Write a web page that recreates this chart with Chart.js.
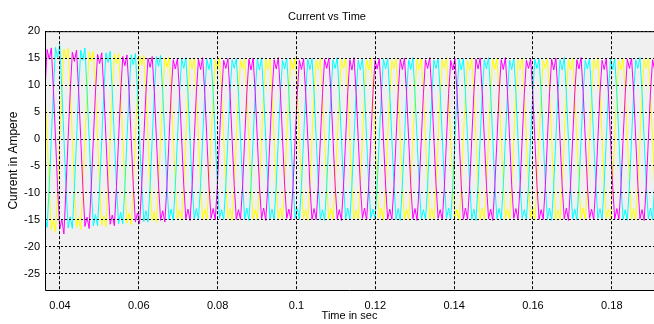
<!DOCTYPE html>
<html>
<head>
<meta charset="utf-8">
<script src="https://cdn.jsdelivr.net/npm/chart.js@4.4.1/dist/chart.umd.min.js"></script>
<style>
  html, body { margin: 0; padding: 0; background: #fff; }
  #wrap { width: 654px; height: 324px; }
</style>
</head>
<body>
<div id="wrap"><canvas id="chart" width="654" height="324"></canvas></div>
<script>
// sampling of the traces (seconds)
const sampleStart = 0.0362;
const sampleStep = 0.0064 / 12;

// phase currents (A), one line per cycle
const currentYellow = [
  9.3, 0.2, -9.1, -16.9, -15.0, -17.3, -9.2, 0.1, 9.0, 16.7, 14.8, 16.8,
  9.1, 0.1, -8.9, -16.4, -14.6, -16.8, -9.0, 0.0, 8.8, 16.2, 14.4, 16.3,
  8.9, 0.1, -8.8, -16.0, -14.2, -16.3, -8.9, 0.0, 8.7, 15.8, 14.0, 15.9,
  8.8, 0.0, -8.7, -15.6, -13.8, -15.9, -8.8, 0.1, 8.6, 15.4, 13.7, 15.5,
  8.7, 0.1, -8.6, -15.2, -13.4, -15.5, -8.7, 0.0, 8.5, 15.1, 13.3, 15.2,
  8.6, 0.0, -8.5, -14.9, -13.1, -15.1, -8.6, 0.1, 8.5, 14.8, 13.0, 15.0,
  8.5, 0.1, -8.6, -14.8, -13.0, -15.0, -8.5, 0.0, 8.6, 14.7, 12.9, 15.1,
  8.7, 0.0, -8.4, -14.7, -12.9, -15.1, -8.7, 0.1, 8.4, 14.6, 13.1, 14.9,
  8.6, -0.1, -8.5, -14.9, -13.1, -14.9, -8.6, 0.0, 8.5, 14.8, 12.8, 15.0,
  8.5, 0.0, -8.6, -14.8, -12.8, -15.0, -8.5, 0.1, 8.6, 14.7, 13.0, 15.1,
  8.6, 0.1, -8.5, -14.7, -13.0, -15.1, -8.6, 0.0, 8.5, 14.6, 12.9, 14.9,
  8.7, 0.0, -8.4, -14.9, -12.9, -14.9, -8.7, -0.1, 8.4, 14.8, 13.1, 15.0,
  8.5, 0.1, -8.6, -14.8, -13.1, -15.0, -8.5, 0.0, 8.6, 14.7, 12.8, 15.1,
  8.6, 0.0, -8.5, -14.7, -12.8, -15.1, -8.6, 0.1, 8.5, 14.6, 13.0, 14.9,
  8.5, -0.1, -8.6, -14.9, -13.0, -14.9, -8.5, 0.0, 8.6, 14.8, 12.9, 15.0,
  8.7, 0.0, -8.4, -14.8, -12.9, -15.0, -8.7, 0.1, 8.4, 14.7, 13.1, 15.1,
  8.6, 0.1, -8.5, -14.7, -13.1, -15.1, -8.6, 0.0, 8.5, 14.6, 12.8, 14.9,
  8.5, 0.0, -8.6, -14.9, -12.8, -14.9, -8.5, -0.1, 8.6, 14.8, 13.0, 15.0,
  8.6, 0.1, -8.5, -14.8, -13.0, -15.0, -8.6, 0.0, 8.5, 14.7, 12.9, 15.1,
  8.7, 0.0, -8.4, -14.7, -12.9, -15.1, -8.7, 0.1, 8.4, 14.6, 13.1, 14.9,
  8.5, -0.1, -8.6, -14.9, -13.1, -14.9, -8.5, 0.0, 8.6, 14.8, 12.8, 15.0,
  8.6, 0.0, -8.5, -14.8, -12.8, -15.0, -8.6, 0.1, 8.5, 14.7, 13.0, 15.1,
  8.5, 0.1, -8.6, -14.7, -13.0, -15.1, -8.5, 0.0, 8.6, 14.6, 12.9, 14.9,
  8.7, 0.0, -8.4, -14.9, -12.9, -14.9, -8.7, -0.1, 8.4, 14.8, 13.1, 15.0,
  8.6, 0.1, -8.5
];

const currentMagenta = [
  8.9, 16.6, 14.8, 16.9, 9.2, 0.2, -9.0, -16.7, -14.9, -17.6, -9.1, 0.1,
  8.8, 16.1, 14.4, 16.5, 9.0, 0.1, -8.8, -16.2, -14.5, -16.6, -8.9, 0.0,
  8.7, 15.7, 14.0, 16.0, 8.9, 0.1, -8.7, -15.8, -14.1, -16.1, -8.8, 0.0,
  8.6, 15.3, 13.6, 15.6, 8.8, 0.0, -8.6, -15.4, -13.7, -15.7, -8.7, 0.1,
  8.5, 15.0, 13.3, 15.3, 8.7, 0.1, -8.5, -15.1, -13.3, -15.4, -8.6, 0.0,
  8.5, 14.7, 13.0, 15.0, 8.6, 0.0, -8.5, -14.8, -13.0, -15.1, -8.6, 0.1,
  8.6, 14.8, 12.9, 15.1, 8.5, 0.1, -8.6, -14.7, -12.9, -15.0, -8.5, 0.0,
  8.4, 14.6, 13.1, 14.9, 8.7, 0.0, -8.4, -14.9, -13.1, -14.9, -8.7, 0.1,
  8.5, 14.8, 12.8, 15.0, 8.6, -0.1, -8.5, -14.8, -12.8, -15.1, -8.6, 0.0,
  8.6, 14.7, 13.0, 15.1, 8.5, 0.0, -8.6, -14.7, -13.0, -15.0, -8.5, 0.1,
  8.5, 14.6, 12.9, 14.9, 8.6, 0.1, -8.5, -14.9, -12.9, -14.9, -8.6, 0.0,
  8.4, 14.8, 13.1, 15.0, 8.7, 0.0, -8.4, -14.8, -13.1, -15.1, -8.7, -0.1,
  8.6, 14.7, 12.8, 15.1, 8.5, 0.1, -8.6, -14.7, -12.8, -15.0, -8.5, 0.0,
  8.5, 14.6, 13.0, 14.9, 8.6, 0.0, -8.5, -14.9, -13.0, -14.9, -8.6, 0.1,
  8.6, 14.8, 12.9, 15.0, 8.5, -0.1, -8.6, -14.8, -12.9, -15.1, -8.5, 0.0,
  8.4, 14.7, 13.1, 15.1, 8.7, 0.0, -8.4, -14.7, -13.1, -15.0, -8.7, 0.1,
  8.5, 14.6, 12.8, 14.9, 8.6, 0.1, -8.5, -14.9, -12.8, -14.9, -8.6, 0.0,
  8.6, 14.8, 13.0, 15.0, 8.5, 0.0, -8.6, -14.8, -13.0, -15.1, -8.5, -0.1,
  8.5, 14.7, 12.9, 15.1, 8.6, 0.1, -8.5, -14.7, -12.9, -15.0, -8.6, 0.0,
  8.4, 14.6, 13.1, 14.9, 8.7, 0.0, -8.4, -14.9, -13.1, -14.9, -8.7, 0.1,
  8.6, 14.8, 12.8, 15.0, 8.5, -0.1, -8.6, -14.8, -12.8, -15.1, -8.5, 0.0,
  8.5, 14.7, 13.0, 15.1, 8.6, 0.0, -8.5, -14.7, -13.0, -15.0, -8.6, 0.1,
  8.6, 14.6, 12.9, 14.9, 8.5, 0.1, -8.6, -14.9, -12.9, -14.9, -8.5, 0.0,
  8.4, 14.8, 13.1, 15.0, 8.7, 0.0, -8.4, -14.8, -13.1, -15.1, -8.7, -0.1,
  8.5, 14.7, 12.8
];

const currentCyan = [
  -14.3, -16.4, -9.0, 0.1, 9.1, 17.0, 15.1, 17.5, 9.3, 0.2, -9.0, -16.5,
  -14.4, -16.6, -9.0, 0.0, 8.9, 16.5, 14.6, 16.9, 9.1, 0.1, -8.9, -16.1,
  -14.0, -16.1, -8.9, 0.0, 8.8, 16.0, 14.2, 16.3, 8.9, 0.1, -8.8, -15.7,
  -13.6, -15.7, -8.8, 0.1, 8.7, 15.6, 13.8, 15.9, 8.8, 0.0, -8.7, -15.3,
  -13.3, -15.4, -8.7, 0.0, 8.6, 15.3, 13.5, 15.5, 8.7, 0.1, -8.6, -15.0,
  -13.0, -15.1, -8.6, 0.1, 8.5, 14.9, 13.1, 15.1, 8.6, 0.0, -8.5, -14.8,
  -12.9, -15.0, -8.5, 0.0, 8.6, 14.8, 12.9, 15.0, 8.5, 0.1, -8.6, -14.7,
  -13.1, -14.9, -8.7, 0.1, 8.4, 14.7, 13.1, 14.9, 8.7, 0.0, -8.4, -14.9,
  -12.8, -15.1, -8.6, 0.0, 8.5, 14.8, 12.8, 15.1, 8.6, -0.1, -8.5, -14.8,
  -13.0, -15.0, -8.5, 0.1, 8.6, 14.6, 13.0, 15.0, 8.5, 0.0, -8.6, -14.7,
  -12.9, -14.9, -8.6, 0.0, 8.5, 14.8, 12.9, 14.9, 8.6, 0.1, -8.5, -14.9,
  -13.1, -15.1, -8.7, -0.1, 8.4, 14.7, 13.1, 15.1, 8.7, 0.0, -8.4, -14.8,
  -12.8, -15.0, -8.5, 0.0, 8.6, 14.6, 12.8, 15.0, 8.5, 0.1, -8.6, -14.7,
  -13.0, -14.9, -8.6, 0.1, 8.5, 14.8, 13.0, 14.9, 8.6, 0.0, -8.5, -14.9,
  -12.9, -15.1, -8.5, 0.0, 8.6, 14.7, 12.9, 15.1, 8.5, -0.1, -8.6, -14.8,
  -13.1, -15.0, -8.7, 0.1, 8.4, 14.6, 13.1, 15.0, 8.7, 0.0, -8.4, -14.7,
  -12.8, -14.9, -8.6, 0.0, 8.5, 14.8, 12.8, 14.9, 8.6, 0.1, -8.5, -14.9,
  -13.0, -15.1, -8.5, -0.1, 8.6, 14.7, 13.0, 15.1, 8.5, 0.0, -8.6, -14.8,
  -12.9, -15.0, -8.6, 0.0, 8.5, 14.6, 12.9, 15.0, 8.6, 0.1, -8.5, -14.7,
  -13.1, -14.9, -8.7, 0.1, 8.4, 14.8, 13.1, 14.9, 8.7, 0.0, -8.4, -14.9,
  -12.8, -15.1, -8.5, 0.0, 8.6, 14.7, 12.8, 15.1, 8.5, -0.1, -8.6, -14.8,
  -13.0, -15.0, -8.6, 0.1, 8.5, 14.6, 13.0, 15.0, 8.6, 0.0, -8.5, -14.7,
  -12.9, -14.9, -8.5, 0.0, 8.6, 14.8, 12.9, 14.9, 8.5, 0.1, -8.6, -14.9,
  -13.1, -15.1, -8.7, -0.1, 8.4, 14.7, 13.1, 15.1, 8.7, 0.0, -8.4, -14.8,
  -12.8, -15.0, -8.5
];

const timeTicks = [0.04, 0.06, 0.08, 0.1, 0.12, 0.14, 0.16, 0.18];
const currentTicks = [-25, -20, -15, -10, -5, 0, 5, 10, 15, 20];

const font = { family: 'Liberation Sans, Arial, sans-serif', size: 11 };

function toPoints(values) {
  return values.map((v, i) => ({ x: sampleStart + i * sampleStep, y: v }));
}

// grey plot background and the solid axes box (left, top, bottom)
const axesBox = {
  id: 'axesBox',
  beforeDraw(chart) {
    const { ctx, chartArea: a } = chart;
    ctx.save();
    ctx.fillStyle = '#f0f0f0';
    ctx.fillRect(a.left, a.top, a.right - a.left, a.bottom - a.top);
    ctx.restore();
  },
  afterDraw(chart) {
    const { ctx, chartArea: a } = chart;
    ctx.save();
    ctx.strokeStyle = '#000';
    ctx.lineWidth = 1;
    ctx.beginPath();
    ctx.moveTo(a.right, a.top + 0.5);
    ctx.lineTo(a.left + 0.5, a.top + 0.5);
    ctx.lineTo(a.left + 0.5, a.bottom + 0.5);
    ctx.lineTo(a.right, a.bottom + 0.5);
    ctx.stroke();
    ctx.restore();
  }
};

const ctx = document.getElementById('chart').getContext('2d');
new Chart(ctx, {
  type: 'line',
  data: {
    datasets: [
      { label: 'Ia', data: toPoints(currentMagenta), borderColor: '#ff00ff' },
      { label: 'Ib', data: toPoints(currentCyan), borderColor: '#00ffff' },
      { label: 'Ic', data: toPoints(currentYellow), borderColor: '#ffff00' }
    ]
  },
  options: {
    responsive: false,
    animation: false,
    events: [],
    elements: {
      point: { radius: 0 },
      line: { borderWidth: 1, tension: 0 }
    },
    layout: { padding: 0 },
    plugins: {
      legend: { display: false },
      tooltip: { enabled: false },
      title: {
        display: true,
        text: 'Current vs Time',
        color: '#000',
        font: { ...font, weight: 'normal' },
        padding: { top: 10, bottom: 8 }
      }
    },
    scales: {
      x: {
        type: 'linear',
        min: 0.0362,
        max: 0.1907,
        afterFit: s => { s.height = 34; },
        afterBuildTicks: s => { s.ticks = timeTicks.map(v => ({ value: v })); },
        ticks: {
          color: '#000',
          font,
          padding: 9,
          maxRotation: 0,
          autoSkip: false,
          callback: v => String(+v.toFixed(3))
        },
        grid: { color: '#000', lineWidth: 1, drawTicks: false, z: 1 },
        border: { display: false, dash: [3, 2] },
        title: {
          display: true,
          text: 'Time in sec',
          color: '#000',
          font,
          padding: { top: 0, bottom: 1 }
        }
      },
      y: {
        min: -28,
        max: 20,
        afterFit: s => { s.width = 45; },
        afterBuildTicks: s => { s.ticks = currentTicks.map(v => ({ value: v })); },
        ticks: { color: '#000', font, padding: 5 },
        grid: { color: '#000', lineWidth: 1, drawTicks: false, z: 1 },
        border: { display: false, dash: [2, 2] },
        title: {
          display: true,
          text: 'Current in Ampere',
          color: '#000',
          font: { ...font, size: 12 },
          padding: { top: 6, bottom: 0 }
        }
      }
    }
  },
  plugins: [axesBox]
});
</script>
</body>
</html>
